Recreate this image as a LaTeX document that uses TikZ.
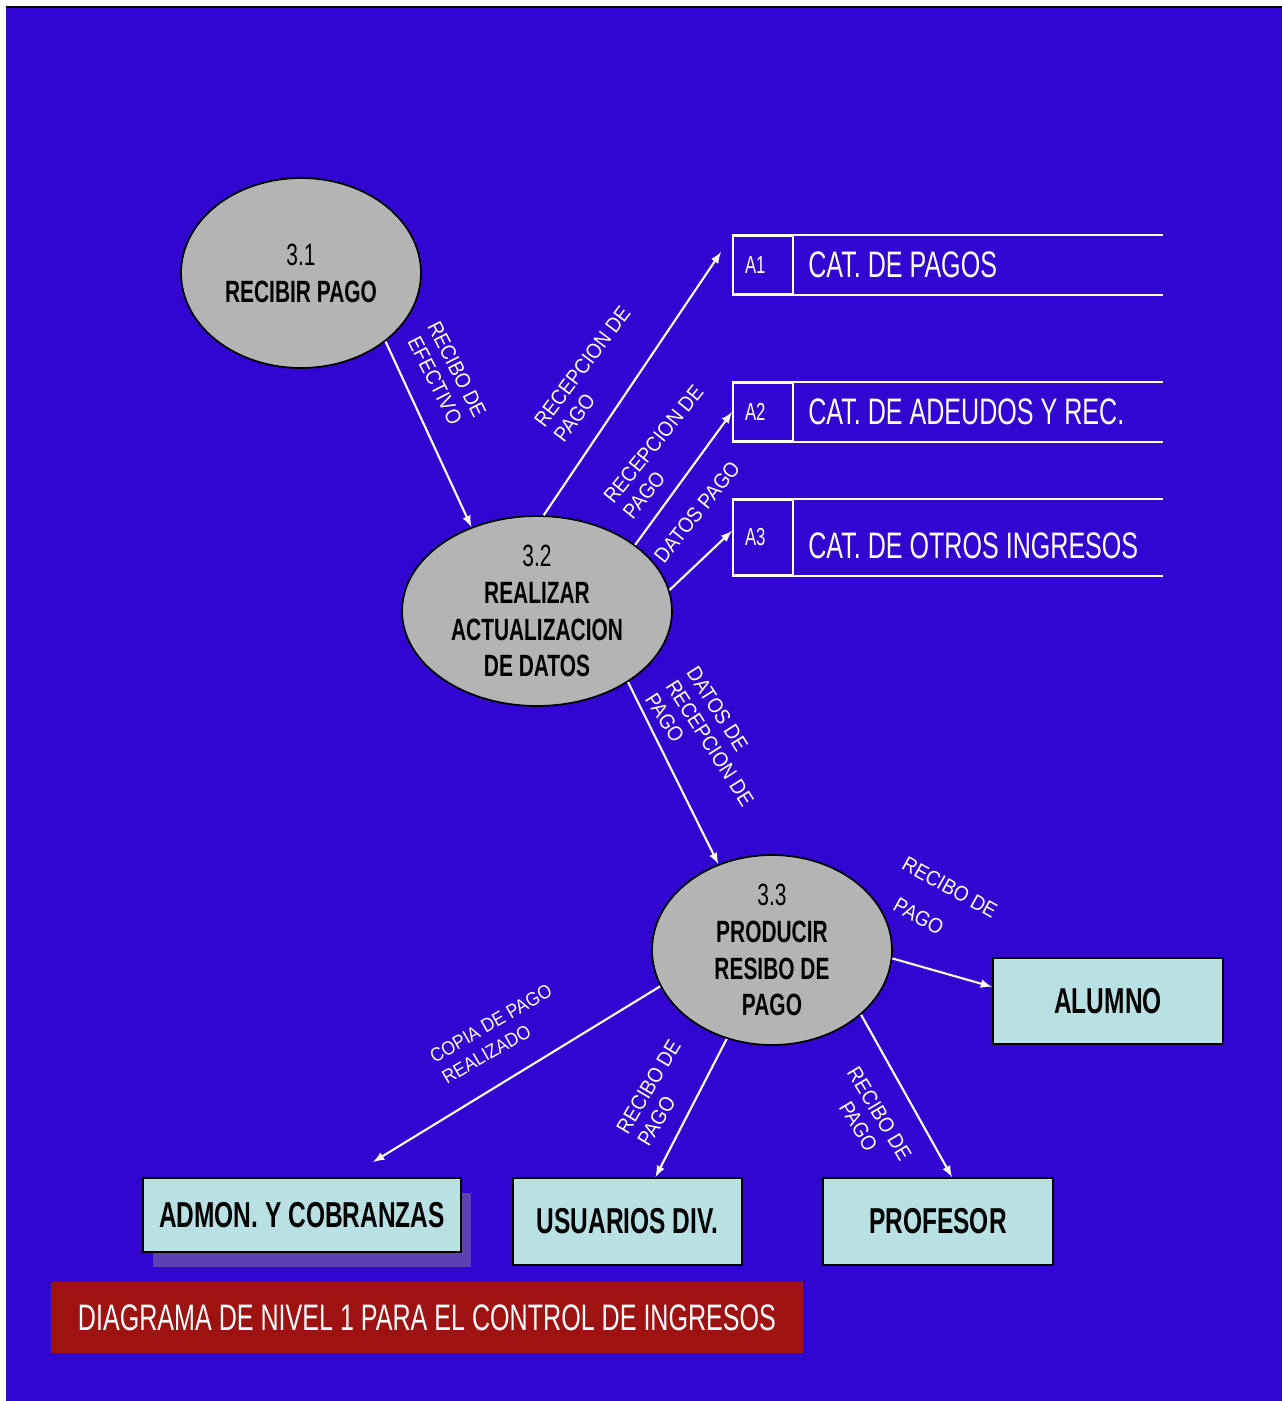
\documentclass[tikz,border=0pt]{standalone}
\usepackage{fontspec}
\setmainfont{Liberation Sans}
\newfontfamily\narrowfont[FakeStretch=0.68]{Liberation Sans}
\newfontfamily\flowfont[FakeStretch=0.9]{Liberation Sans}
\usepackage{tikz}
\usetikzlibrary{shapes,positioning}
\usetikzlibrary{calc}
\usetikzlibrary{arrows,shadows}
\definecolor{fondo}{RGB}{48,6,208}
\definecolor{gris}{RGB}{180,180,180}
\definecolor{caja}{RGB}{185,225,228}
\definecolor{sombra}{RGB}{90,64,176}
\definecolor{rojo}{RGB}{158,18,18}
\tikzset{
	proceso/.style={draw=black,line width=1pt,ellipse,fill=gris,inner sep=0pt},
	textoproc/.style={align=center,inner sep=0pt,font={\narrowfont\fontsize{17.5}{21}\selectfont}},
	entidad/.style={draw=black,line width=1.1pt,fill=caja,inner sep=0pt,font={\narrowfont\bfseries\fontsize{20.5}{24}\selectfont}},
	almacen/.style={draw=white,line width=1.1pt,text=white,inner xsep=0.24cm,inner ysep=0pt,text width=0.72cm,align=left,minimum height=1.16cm,font={\narrowfont\fontsize{14}{16}\selectfont}},
	lineaalm/.style={white,line width=1.1pt},
	textoalm/.style={text=white,inner sep=0pt,font={\narrowfont\fontsize{21}{24}\selectfont}},
	flujo/.style={white,line width=1.2pt,-latex},
	etiqueta/.style={text=white,inner sep=0pt,font={\flowfont\fontsize{12}{14}\selectfont}}
}

\begin{document}
\begin{tikzpicture}[x=0.02cm,y=-0.02cm]
	
	\useasboundingbox (0,0) rectangle (1282,1401);
	\fill[white] (0,0) rectangle (1282,1401);
	%Fondo
	\fill[fondo] (6,8) rectangle (1282,1401);
	\draw[black,line width=1.2pt] (6,7) -- (1282,7);
	
	%Procesos
	\node[proceso,minimum width=4.8cm,minimum height=3.8cm] (p31) at (301,273) {};
	\node[textoproc] (t31) at (p31) {3.1\\\textbf{RECIBIR PAGO}};
	\node[proceso,minimum width=5.4cm,minimum height=3.8cm] (p32) at (537,611) {};
	\node[textoproc] (t32) at (p32) {3.2\\\textbf{REALIZAR}\\\textbf{ACTUALIZACION}\\\textbf{DE DATOS}};
	\node[proceso,minimum width=4.8cm,minimum height=3.8cm] (p33) at (772,950) {};
	\node[textoproc] (t33) at (p33) {3.3\\\textbf{PRODUCIR}\\\textbf{RESIBO DE}\\\textbf{PAGO}};
	
	%Almacenes
	\node[almacen] (a1) at (763,265) {A1};
	\node[almacen] (a2) at (763,412) {A2};
	\node[almacen,minimum height=1.5cm] (a3) at (763,537.5) {A3};
	\draw[lineaalm] (a1.north west) -- ++(431,0) (a1.south west) -- ++(431,0);
	\draw[lineaalm] (a2.north west) -- ++(431,0) (a2.south west) -- ++(431,0);
	\draw[lineaalm] (a3.north west) -- ++(431,0) (a3.south west) -- ++(431,0);
	\node[textoalm,right=0.28cm of a1] (c1) {CAT. DE PAGOS};
	\node[textoalm,right=0.28cm of a2] (c2) {CAT. DE ADEUDOS Y REC.};
	\node[textoalm,right=0.28cm of a3,yshift=-0.16cm] (c3) {CAT. DE OTROS INGRESOS};
	
	%Entidades externas
	\node[entidad,minimum width=4.6cm,minimum height=1.72cm] (alumno) at (1108,1001) {ALUMNO};
	\node[entidad,minimum width=6.36cm,minimum height=1.48cm,
		drop shadow={shadow xshift=5.7pt,shadow yshift=-8.5pt,fill=sombra,opacity=1}] (admon) at (302,1215) {ADMON. Y COBRANZAS};
	\node[entidad,minimum width=4.58cm,minimum height=1.74cm] (usuarios) at (627.5,1221.5) {USUARIOS DIV.};
	\node[entidad,minimum width=4.6cm,minimum height=1.74cm] (profesor) at (938,1221.5) {PROFESOR};
	
	%Titulo
	\node[fill=rojo,text=white,minimum width=15.04cm,minimum height=1.42cm,inner sep=0pt,
		font={\narrowfont\fontsize{21}{24}\selectfont}] (titulo) at (427,1317.5) {DIAGRAMA DE NIVEL 1 PARA EL CONTROL DE INGRESOS};
	
	%Puntas libres
	\coordinate (finA1) at ($(a1.west)+(-11,-13)$);
	\coordinate (finAdmon) at ($(admon.north)+(71,-15)$);
	\coordinate (finUsu) at ($(usuarios.north)+(28,0)$);
	\coordinate (finProf) at ($(profesor.north)+(14,0)$);
	
	%Flujos
	\draw[flujo] (p31.-39) -- (p32.128);
	\draw[flujo] (p32.86) -- (finA1);
	\draw[flujo] (p32.34) -- (a2.west);
	\draw[flujo] (p32.9) -- (a3.168);
	\draw[flujo] (p32.-38) -- (p33.122);
	\draw[flujo] (p33.-4) -- (alumno.173);
	\draw[flujo] (p33.198) -- (finAdmon);
	\draw[flujo] (p33.243) -- (finUsu);
	\draw[flujo] (p33.-36) -- (finProf);
	
	%Etiquetas de flujos
	\node[etiqueta,rotate=-63,align=center] (e1) at (446,375) {RECIBO DE\\EFECTIVO};
	\node[etiqueta,rotate=53,align=left] (e2) at (592,374) {RECEPCION DE\\PAGO};
	\node[etiqueta,rotate=51,align=left] (e3) at (663,452) {RECEPCION DE\\PAGO};
	\node[etiqueta,rotate=51] (e4) at (697,512) {DATOS PAGO};
	\node[etiqueta,rotate=-57.5,align=left] (e5) at (710,743) {DATOS DE\\RECEPCION DE\\PAGO};
	\node[etiqueta,rotate=-29,align=left] (e6) at (940,905) {RECIBO DE\\[9pt]\hspace*{7pt}PAGO};
	\node[etiqueta,rotate=30,align=left,font={\flowfont\fontsize{11}{14}\selectfont}] (e7) at (497,1034) {COPIA DE PAGO\\REALIZADO};
	\node[etiqueta,rotate=59,align=left] (e8) at (659,1093) {RECIBO DE\\PAGO};
	\node[etiqueta,rotate=-59,align=center] (e9) at (869,1120) {RECIBO DE\\PAGO};
	
\end{tikzpicture}
\end{document}
